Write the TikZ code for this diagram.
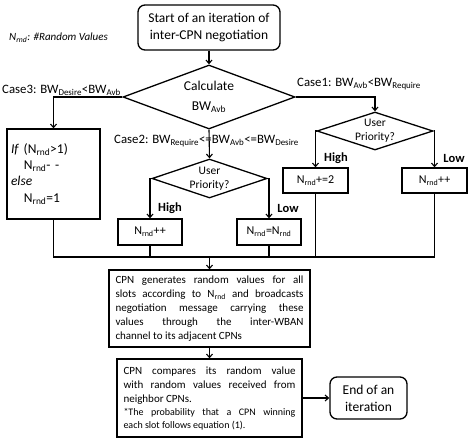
\documentclass[tikz,border=0pt]{standalone}
\usepackage{fontspec}
\setmainfont{Carlito}
\usetikzlibrary{shapes.geometric, arrows.meta, positioning, calc}
\newcommand{\Nrnd}{N\textsubscript{rnd}}
\newcommand{\BWof}[1]{BW\textsubscript{#1}}

\begin{document}
\begin{tikzpicture}[x=1pt, y=-1pt,
  flowline/.style={line width=1.1pt, -{Straight Barb[length=3.5pt, width=6pt]}},
  joinline/.style={line width=1.1pt},
  termbox/.style={draw, line width=1.3pt, rounded corners=7pt, inner sep=0pt, align=center, font=\fontsize{13.5}{17}\selectfont},
  procbox/.style={draw, line width=1.3pt, inner sep=0pt, align=center, font=\fontsize{12}{14}\selectfont},
  textbox/.style={draw, line width=1.3pt, inner ysep=0pt, align=justify, font=\fontsize{11}{14}\selectfont},
  decision/.style={draw, diamond, line width=1.3pt, inner sep=0pt, align=center},
  caselbl/.style={anchor=west, inner sep=0pt, font=\fontsize{12.8}{15}\selectfont},
  prio/.style={inner sep=0pt, font=\bfseries\fontsize{12.5}{14}\selectfont}]
  \useasboundingbox (0,0) rectangle (469,442);

  % legend
  \node[anchor=west, inner sep=0pt, font=\itshape\fontsize{11}{13}\selectfont] (legend) at (9,38) {\Nrnd: \#Random Values};

  % start
  \node[termbox, minimum width=142pt, minimum height=45pt] (start) at (209,27.5)
    {Start of an iteration of\\inter-CPN negotiation};

  % calculate BW
  \node[decision, aspect=2.7, minimum width=172pt, minimum height=64pt, font=\fontsize{13.5}{20}\selectfont] (calc) at (209,97)
    {Calculate\\\BWof{Avb}};

  % case 3
  \node[caselbl] (case3) at (2,90) {Case3: \BWof{Desire}<\BWof{Avb}};
  \node[draw, line width=1.3pt, minimum width=93pt, minimum height=90pt, text width=85pt, align=left,
        inner sep=0pt, font=\fontsize{13.5}{16.3}\selectfont] (ifbox) at (53.5,174)
    {\textit{If} (\Nrnd>1)\\\hspace*{13pt}\Nrnd- -\\\textit{else}\\\hspace*{13pt}\Nrnd=1};

  % case 1
  \node[caselbl] (case1) at (297,84) {Case1: \BWof{Avb}<\BWof{Require}};
  \node[decision, aspect=3.2, minimum width=116pt, minimum height=38pt, font=\fontsize{11.5}{14}\selectfont] (rprio) at (375,131)
    {User\\Priority?};
  \node[procbox, minimum width=65pt, minimum height=25pt] (rhigh) at (315.5,180.5) {\Nrnd+=2};
  \node[procbox, minimum width=65pt, minimum height=25pt] (rlow) at (434.5,180.5) {\Nrnd++};
  \node[prio] (rhighlbl) at (336,158) {High};
  \node[prio] (rlowlbl) at (454,158) {Low};

  % case 2
  \node[caselbl] (case2) at (114,141) {Case2: \BWof{Require}<=\BWof{Avb}<=\BWof{Desire}};
  \node[decision, aspect=3.2, minimum width=115pt, minimum height=39pt, font=\fontsize{11.5}{14}\selectfont] (mprio) at (209.5,178.5)
    {User\\Priority?};
  \node[procbox, minimum width=64pt, minimum height=26pt] (mhigh) at (150,232) {\Nrnd++};
  \node[procbox, minimum width=64pt, minimum height=26pt] (mlow) at (269,232) {\Nrnd=\Nrnd};
  \node[prio] (mhighlbl) at (170,208) {High};
  \node[prio] (mlowlbl) at (288,208) {Low};

  % generate and compare
  \coordinate (merge) at (209.5,257);
  \node[textbox, text width=188pt, inner xsep=6.5pt, minimum height=77pt] (gen) at (209.5,308.5)
    {CPN generates random values for all\linebreak slots according to \Nrnd\ and broadcasts\linebreak
     negotiation message carrying these\linebreak values through the inter-WBAN\linebreak channel to its adjacent CPNs};
  \node[textbox, text width=172pt, inner xsep=6.5pt, minimum height=78pt] (comp) at (209.5,398)
    {CPN compares its random value\linebreak with random values received from\linebreak neighbor CPNs.\par
     {\fontsize{10}{13}\selectfont *The probability that a CPN winning\linebreak each slot follows equation (1).\par}};
  \node[termbox, minimum width=77pt, minimum height=42pt] (finish) at (368.5,398) {End of an\\iteration};

  % connectors
  \draw[flowline] (start) -- (calc);
  \draw[flowline] (calc.west) -| (ifbox.north);
  \draw[flowline] (calc.east) -| (rprio.north);
  \draw[flowline] (calc.south) -- (mprio.north);
  \draw[flowline] (rprio.west) -| (rhigh.north);
  \draw[flowline] (rprio.east) -| (rlow.north);
  \draw[flowline] (mprio.west) -| (mhigh.north);
  \draw[flowline] (mprio.east) -| (mlow.north);

  \draw[joinline] (ifbox.south) |- (rlow.south |- merge) -- (rlow.south);
  \draw[joinline] (rhigh.south) -- (rhigh.south |- merge);
  \draw[joinline] (mhigh.south) -- (mhigh.south |- merge);
  \draw[joinline] (mlow.south) -- (mlow.south |- merge);
  \draw[flowline] (merge) -- (gen.north);
  \draw[flowline] (gen.south) -- (comp.north);
  \draw[flowline] (comp.east) -- (finish.west);
\end{tikzpicture}
\end{document}
